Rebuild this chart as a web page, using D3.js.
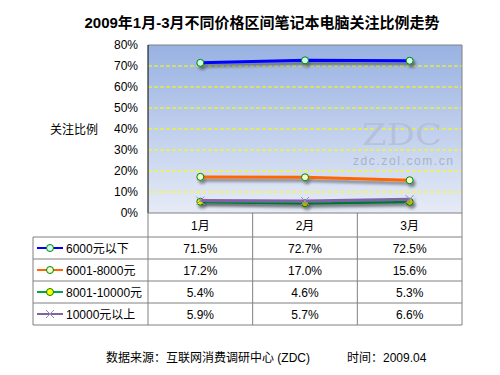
<!DOCTYPE html>
<html>
<head>
<meta charset="utf-8">
<script src="https://cdn.jsdelivr.net/npm/d3@7"></script>
<style>
body { margin: 0; background: #fff; }
text { font-family: Arial, "Liberation Sans", "Noto Sans CJK SC", sans-serif; }
</style>
</head>
<body>
<div id="chart"></div>
<script>
var months = ['1月', '2月', '3月'];
var seriesNames = ['6000元以下', '6001-8000元', '8001-10000元', '10000元以上'];
var s6000 = [71.5, 72.7, 72.5];
var s8000 = [17.2, 17.0, 15.6];
var s10000 = [5.4, 4.6, 5.3];
var sOver = [5.9, 5.7, 6.6];
var yTicks = [0, 10, 20, 30, 40, 50, 60, 70, 80];

var colors = ['#0000ff', '#ff6600', '#00a550', '#8064a2'];
var markerFill = ['#ccffee', '#eeffcc', '#ffff00', null];

var series = [s6000, s8000, s10000, sOver].map(function(v, i) {
    return { name: seriesNames[i], values: v, color: colors[i], fill: markerFill[i] };
});

var svgWidth = 500, svgHeight = 375;
var plot = { left: 148, right: 462, top: 45, bottom: 213 };

var svg = d3.select('#chart').append('svg')
    .attr('width', svgWidth)
    .attr('height', svgHeight);

var defs = svg.append('defs');
var grad = defs.append('linearGradient')
    .attr('id', 'bg').attr('x1', 0).attr('y1', 0).attr('x2', 0).attr('y2', 1);
grad.append('stop').attr('offset', '0%').attr('stop-color', '#98b2e2');
grad.append('stop').attr('offset', '100%').attr('stop-color', '#e6ebf6');

var shadow = defs.append('filter').attr('id', 'shadow')
    .attr('x', '-10%').attr('y', '-50%').attr('width', '120%').attr('height', '250%');
shadow.append('feGaussianBlur').attr('in', 'SourceAlpha').attr('stdDeviation', 1.5).attr('result', 'b');
shadow.append('feOffset').attr('in', 'b').attr('dx', 2).attr('dy', 3).attr('result', 'o');
shadow.append('feComponentTransfer').attr('in', 'o').attr('result', 'o2')
    .append('feFuncA').attr('type', 'linear').attr('slope', 0.45);
var merge = shadow.append('feMerge');
merge.append('feMergeNode').attr('in', 'o2');
merge.append('feMergeNode').attr('in', 'SourceGraphic');

var x = d3.scaleBand().domain(months).range([plot.left, plot.right]);
var y = d3.scaleLinear().domain([0, 80]).range([plot.bottom, plot.top]);

// title
svg.append('text')
    .attr('x', 262).attr('y', 28)
    .attr('text-anchor', 'middle')
    .style('font-size', '15px').style('font-weight', 'bold')
    .text('2009年1月-3月不同价格区间笔记本电脑关注比例走势');

// plot background
svg.append('rect')
    .attr('x', plot.left).attr('y', plot.top)
    .attr('width', plot.right - plot.left).attr('height', plot.bottom - plot.top)
    .attr('fill', 'url(#bg)');

// grid lines
svg.selectAll('line.grid')
    .data(yTicks.filter(function(t) { return t > 0 && t < 80; }))
    .enter().append('line')
    .attr('class', 'grid')
    .attr('x1', plot.left).attr('x2', plot.right)
    .attr('y1', function(d) { return y(d); }).attr('y2', function(d) { return y(d); })
    .attr('stroke', '#ffff00').attr('stroke-width', 1).attr('stroke-dasharray', '4,2');

// watermark
svg.append('text')
    .attr('x', 362).attr('y', 145)
    .attr('textLength', 80).attr('lengthAdjust', 'spacingAndGlyphs')
    .style('font-family', '"DejaVu Serif", "Liberation Serif", serif')
    .style('font-size', '30px')
    .attr('fill', '#b0bed6').attr('opacity', 0.8)
    .text('ZDC');
svg.append('text')
    .attr('x', 353).attr('y', 165)
    .attr('textLength', 100)
    .style('font-size', '12px')
    .attr('fill', '#a8b4c8')
    .text('zdc.zol.com.cn');

// plot border
svg.append('line')
    .attr('x1', plot.left).attr('x2', plot.right)
    .attr('y1', plot.top).attr('y2', plot.top)
    .attr('stroke', '#808080');
svg.append('line')
    .attr('x1', plot.right).attr('x2', plot.right)
    .attr('y1', plot.top).attr('y2', plot.bottom)
    .attr('stroke', '#808080');
svg.append('line')
    .attr('x1', plot.left).attr('x2', plot.left)
    .attr('y1', plot.top).attr('y2', plot.bottom)
    .attr('stroke', '#000');

// y axis
var yAxis = d3.axisLeft(y).tickValues(yTicks).tickSize(0).tickPadding(10)
    .tickFormat(function(d) { return d + '%'; });
var yg = svg.append('g')
    .attr('transform', 'translate(' + plot.left + ',0)')
    .call(yAxis);
yg.select('.domain').remove();
yg.selectAll('text').style('font-size', '12px').attr('fill', '#000')
    .style('font-family', 'Arial, "Liberation Sans", sans-serif');

svg.append('text')
    .attr('x', 74).attr('y', 134)
    .attr('text-anchor', 'middle')
    .style('font-size', '12px')
    .text('关注比例');

// lines
var line = d3.line()
    .x(function(d, i) { return x(months[i]) + x.bandwidth() / 2; })
    .y(function(d) { return y(d); });

var gSeries = svg.selectAll('g.series')
    .data(series)
    .enter().append('g')
    .attr('class', 'series')
    .attr('filter', 'url(#shadow)');

gSeries.append('path')
    .attr('d', function(d) { return line(d.values); })
    .attr('fill', 'none')
    .attr('stroke', function(d) { return d.color; })
    .attr('stroke-width', 3);

gSeries.each(function(s) {
    var g = d3.select(this);
    if (s.fill) {
        g.selectAll('circle')
            .data(s.values)
            .enter().append('circle')
            .attr('cx', function(d, i) { return x(months[i]) + x.bandwidth() / 2; })
            .attr('cy', function(d) { return y(d); })
            .attr('r', 3.5)
            .attr('fill', s.fill)
            .attr('stroke', '#008000')
            .attr('stroke-width', 1);
    } else {
        g.selectAll('path.mark')
            .data(s.values)
            .enter().append('path')
            .attr('class', 'mark')
            .attr('d', function(d, i) {
                var cx = x(months[i]) + x.bandwidth() / 2, cy = y(d);
                return 'M' + (cx - 4) + ',' + (cy - 4) + 'L' + (cx + 4) + ',' + (cy + 4) +
                    'M' + (cx - 4) + ',' + (cy + 4) + 'L' + (cx + 4) + ',' + (cy - 4);
            })
            .attr('stroke', '#9988bb')
            .attr('stroke-width', 1);
    }
});

// data table
var rowTop = 237, rowH = 22, legendLeft = 33;
var tbl = svg.append('g');
var gridColor = '#808080';

x.domain().forEach(function(m) {
    tbl.append('line')
        .attr('x1', x(m)).attr('x2', x(m))
        .attr('y1', plot.bottom).attr('y2', rowTop + rowH * series.length)
        .attr('stroke', gridColor);
});
tbl.append('line')
    .attr('x1', plot.right).attr('x2', plot.right)
    .attr('y1', plot.bottom).attr('y2', rowTop + rowH * series.length)
    .attr('stroke', gridColor);
tbl.append('line')
    .attr('x1', plot.left).attr('x2', plot.right)
    .attr('y1', plot.bottom).attr('y2', plot.bottom)
    .attr('stroke', gridColor);
tbl.append('line')
    .attr('x1', legendLeft).attr('x2', legendLeft)
    .attr('y1', rowTop).attr('y2', rowTop + rowH * series.length)
    .attr('stroke', gridColor);
for (var r = 0; r <= series.length; r++) {
    tbl.append('line')
        .attr('x1', legendLeft).attr('x2', plot.right)
        .attr('y1', rowTop + rowH * r).attr('y2', rowTop + rowH * r)
        .attr('stroke', gridColor);
}

tbl.selectAll('text.month')
    .data(months)
    .enter().append('text')
    .attr('class', 'month')
    .attr('x', function(d) { return x(d) + x.bandwidth() / 2; })
    .attr('y', 230)
    .attr('text-anchor', 'middle')
    .style('font-size', '12px')
    .text(function(d) { return d; });

series.forEach(function(s, r) {
    var cy = rowTop + rowH * r + rowH / 2;
    tbl.append('line')
        .attr('x1', 37).attr('x2', 63)
        .attr('y1', cy).attr('y2', cy)
        .attr('stroke', s.color).attr('stroke-width', 2);
    if (s.fill) {
        tbl.append('circle')
            .attr('cx', 50).attr('cy', cy).attr('r', 3.5)
            .attr('fill', s.fill).attr('stroke', '#008000');
    } else {
        tbl.append('path')
            .attr('d', 'M46,' + (cy - 4) + 'L54,' + (cy + 4) + 'M46,' + (cy + 4) + 'L54,' + (cy - 4))
            .attr('stroke', '#9988bb');
    }
    tbl.append('text')
        .attr('x', 66).attr('y', cy + 5)
        .style('font-size', '12px')
        .text(s.name);
    tbl.selectAll(null)
        .data(s.values)
        .enter().append('text')
        .attr('x', function(d, i) { return x(months[i]) + x.bandwidth() / 2; })
        .attr('y', cy + 5)
        .attr('text-anchor', 'middle')
        .style('font-size', '12px')
        .text(function(d) { return d.toFixed(1) + '%'; });
});

// footer
svg.append('text')
    .attr('x', 106).attr('y', 362)
    .style('font-size', '12px')
    .text('数据来源：互联网消费调研中心 (ZDC)');
svg.append('text')
    .attr('x', 347).attr('y', 362)
    .style('font-size', '12px')
    .text('时间：2009.04');
</script>
</body>
</html>
